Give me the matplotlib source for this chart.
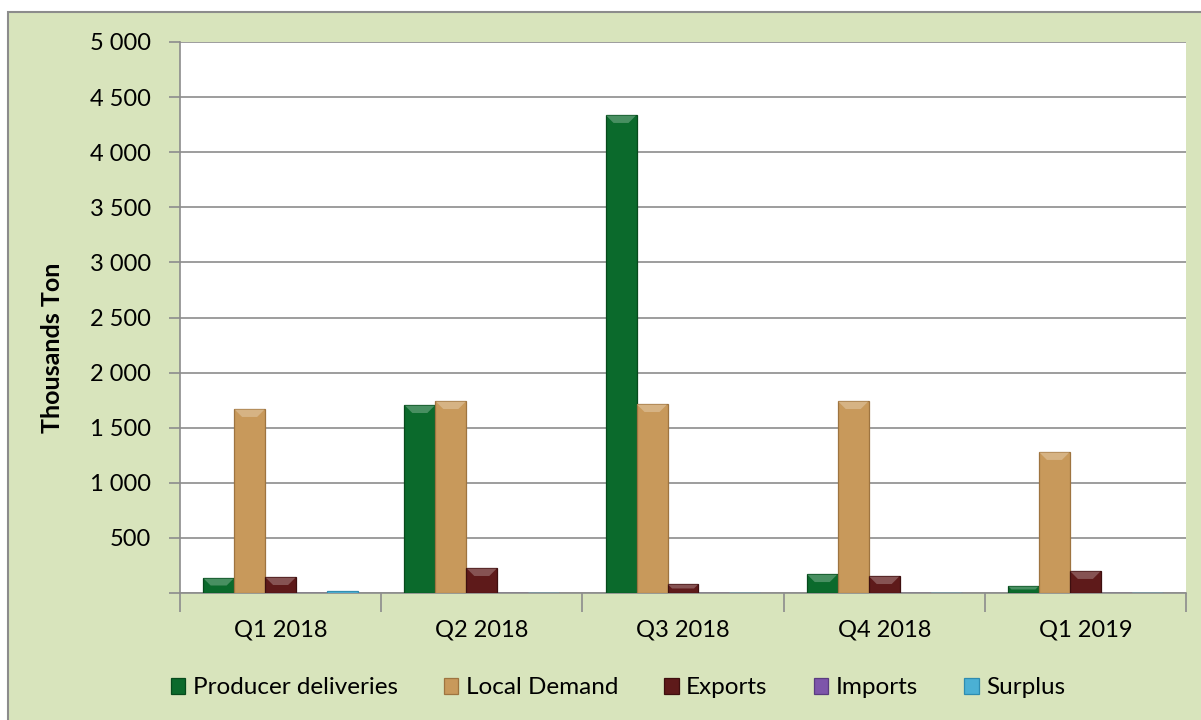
import matplotlib
matplotlib.use("Agg")
import matplotlib.pyplot as plt
import numpy as np
from matplotlib.patches import Rectangle, Polygon
from matplotlib.ticker import FuncFormatter, MultipleLocator
from matplotlib.colors import to_rgb

plt.rcParams['font.family'] = ['Lato', 'DejaVu Sans']

quarters = ["Q1 2018", "Q2 2018", "Q3 2018", "Q4 2018", "Q1 2019"]
series_names = ["Producer deliveries", "Local Demand", "Exports", "Imports", "Surplus"]
producer_deliveries = [136, 1706, 4338, 172, 64]
local_demand = [1670, 1742, 1715, 1742, 1280]
exports = [145, 227, 82, 154, 200]
imports = [0, 0, 0, 0, 0]
surplus = [15, 3, 3, 3, 3]

series_values = [producer_deliveries, local_demand, exports, imports, surplus]
colors = ["#0B6A2C", "#C8995B", "#5E1A1A", "#7D55AA", "#4BB0D4"]
edge_colors = ["#064A1C", "#9E7440", "#3E0F0F", "#5A3C80", "#2E8CB0"]


def lighten(c, f):
    r, g, b = to_rgb(c)
    return (r + (1 - r) * f, g + (1 - g) * f, b + (1 - b) * f)


W, H = 1201, 720
fig = plt.figure(figsize=(W / 100, H / 100), dpi=100)
fig.patch.set_facecolor("white")

# chart background panel with a thin grey frame on top and left
fig.patches.append(Rectangle((8 / W, -0.01), 1.01 - 8 / W, 1.01 - 12 / H,
                             transform=fig.transFigure,
                             facecolor="#D8E4BC", edgecolor="#8C8C8C", linewidth=1.5,
                             zorder=-10))

left, right, top, bottom = 180, 1186, 42, 593
ax = fig.add_axes([left / W, 1 - bottom / H, (right - left) / W, (bottom - top) / H])
ax.set_zorder(5)
ax.set_facecolor("white")

ax.set_xlim(-0.5, len(quarters) - 0.5)
ax.set_ylim(0, 5000)

# pixel sizes in data units, for the bevelled bar tops
px_x = len(quarters) / (right - left)
px_y = 5000 / (bottom - top)

x = np.arange(len(quarters))
bar_w = 0.154
for i, (vals, c, ec) in enumerate(zip(series_values, colors, edge_colors)):
    offs = (i - 2) * bar_w
    bars = ax.bar(x + offs, vals, width=bar_w, color=c, edgecolor=ec, linewidth=0.9,
                  label=series_names[i], zorder=3)
    for b in bars:
        h = b.get_height()
        if h <= 0:
            continue
        x0, w = b.get_x(), b.get_width()
        d = min(8, 0.5 * h / px_y)
        dx, dy = d * px_x, d * px_y
        ax.add_patch(Polygon([(x0 + 0.6 * px_x, h - 0.6 * px_y), (x0 + w - 0.6 * px_x, h - 0.6 * px_y),
                              (x0 + w - dx, h - dy), (x0 + dx, h - dy)],
                             closed=True, facecolor=lighten(c, 0.25), edgecolor="none",
                             zorder=4))

ax.yaxis.set_major_locator(MultipleLocator(500))
ax.yaxis.set_major_formatter(FuncFormatter(
    lambda v, p: "" if v == 0 else f"{int(v):,}".replace(",", " ")))
ax.grid(axis="y", color="#8C8C8C", linewidth=1.2, zorder=1)

ax.set_xticks(x)
ax.set_xticklabels(quarters, fontsize=17)
ax.set_xticks(np.arange(len(quarters) + 1) - 0.5, minor=True)
ax.tick_params(axis="x", which="major", length=0, pad=19)
ax.tick_params(axis="x", which="minor", length=14, color="#8C8C8C", width=1.2)
ax.tick_params(axis="y", length=8, color="#8C8C8C", width=1.2, labelsize=17, pad=13)

for s in ["top", "right"]:
    ax.spines[s].set_visible(False)
for s in ["left", "bottom"]:
    ax.spines[s].set_color("#8C8C8C")
    ax.spines[s].set_linewidth(1.2)

ax.set_ylabel("Thousands Ton", fontsize=18, fontweight="bold")
ax.yaxis.set_label_coords(-0.115, 0.445)

leg = fig.legend(loc="center", bbox_to_anchor=(618 / W, 1 - 688 / H), ncol=5, frameon=False,
                 fontsize=17.5, handlelength=0.6, handleheight=0.6, handletextpad=0.3,
                 columnspacing=1.9)

fig.savefig("out.png", dpi=100, facecolor=fig.get_facecolor())
